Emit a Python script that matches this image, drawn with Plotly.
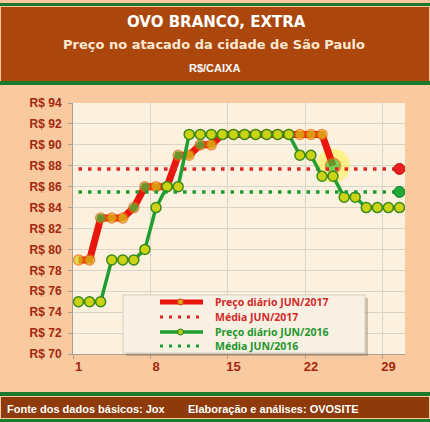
import plotly.graph_objects as go

# dias do mês
dias = list(range(1, 31))
dias_2017 = list(range(1, 25))

# preço diário (R$/caixa)
preco_2017 = [79, 79, 83, 83, 83, 84, 86, 86, 86, 89, 89, 90, 90,
              91, 91, 91, 91, 91, 91, 91, 91, 91, 91, 88]
preco_2016 = [75, 75, 75, 79, 79, 79, 80, 84, 86, 86, 91, 91, 91, 91, 91,
              91, 91, 91, 91, 91, 89, 89, 87, 87, 85, 85, 84, 84, 84, 84]

# médias do mês
media_2017 = 87.7
media_2016 = 85.5

x_ticks = [1, 8, 15, 22, 29]
y_ticks = list(range(70, 95, 2))
y_labels = ["R$ %d" % v for v in y_ticks]

nomes = ["Preço diário JUN/2017", "Média JUN/2017",
         "Preço diário JUN/2016", "Média JUN/2016"]

RED = "#e8160c"
GREEN = "#1f9e32"
TICK_COLOR = "#a2280e"

# marker fills of the 2017 series (some balls are green in the original)
fill_2017 = ["#d8cf12"] * len(preco_2017)
for i in (2, 5, 6, 9, 11, 23):
    fill_2017[i] = "#3cc83a"
size_2017 = [10] * len(preco_2017)
size_2017[-1] = 15


def px(x):
    return (x - 73) / 332.0


def py(y):
    return (354 - y) / 251.0


def label(text, x, y, size, color, family="Liberation Sans", xanchor="center"):
    return dict(text=text, x=px(x), y=py(y), xref="paper", yref="paper",
                xanchor=xanchor, yanchor="middle", showarrow=False,
                font=dict(family=family, size=size, color=color,
                          weight="bold"))


fig = go.Figure()

# glow behind the last 2017 point
fig.add_trace(go.Scatter(
    x=dias_2017[-1:], y=preco_2017[-1:], mode="markers",
    marker=dict(size=34, color="rgba(255,240,70,0.55)", line=dict(width=0)),
    hoverinfo="skip", showlegend=False))

fig.add_trace(go.Scatter(
    x=dias_2017, y=preco_2017, mode="lines+markers", name=nomes[0],
    line=dict(color=RED, width=7),
    marker=dict(size=size_2017, color=fill_2017,
                line=dict(color="#e86a10", width=1.5))))

fig.add_trace(go.Scatter(
    x=dias, y=[media_2017] * len(dias), mode="lines", name=nomes[1],
    line=dict(color="#e02424", width=3.5, dash="3.5px,6px")))
fig.add_trace(go.Scatter(
    x=dias[-1:], y=[media_2017], mode="markers", showlegend=False,
    marker=dict(size=11, color="#e82020", line=dict(color="#c01010", width=1))))

fig.add_trace(go.Scatter(
    x=dias, y=preco_2016, mode="lines+markers", name=nomes[2],
    line=dict(color=GREEN, width=3.5),
    marker=dict(size=10, color="#cbd314", line=dict(color="#3b8a1c", width=1.5))))

fig.add_trace(go.Scatter(
    x=dias, y=[media_2016] * len(dias), mode="lines", name=nomes[3],
    line=dict(color="#1e9a30", width=3.5, dash="3.5px,6px")))
fig.add_trace(go.Scatter(
    x=dias[-1:], y=[media_2016], mode="markers", showlegend=False,
    marker=dict(size=11, color="#22a838", line=dict(color="#157a22", width=1))))

shapes = [
    # header
    dict(type="rect", xref="paper", yref="paper", x0=px(0), x1=px(430),
         y0=py(3), y1=py(6), fillcolor="#1b7a2b", line_width=0),
    dict(type="rect", xref="paper", yref="paper", x0=px(1), x1=px(429),
         y0=py(7), y1=py(81), fillcolor="#ab470c", line_width=0),
    dict(type="rect", xref="paper", yref="paper", x0=px(0), x1=px(430),
         y0=py(81), y1=py(85), fillcolor="#1b7a2b", line_width=0),
    # footer
    dict(type="rect", xref="paper", yref="paper", x0=px(0), x1=px(430),
         y0=py(392), y1=py(396), fillcolor="#1b7a2b", line_width=0),
    dict(type="rect", xref="paper", yref="paper", x0=px(1), x1=px(429),
         y0=py(397), y1=py(418), fillcolor="#8f3a0a", line_width=0),
    dict(type="rect", xref="paper", yref="paper", x0=px(0), x1=px(430),
         y0=py(419), y1=py(422), fillcolor="#1b7a2b", line_width=0),
    # legend box with shadow
    dict(type="rect", xref="paper", yref="paper", x0=px(126), x1=px(368),
         y0=py(356), y1=py(298), fillcolor="rgba(120,100,80,0.35)",
         line_width=0, layer="above"),
    dict(type="rect", xref="paper", yref="paper", x0=px(123), x1=px(365),
         y0=py(353), y1=py(295), fillcolor="#f8f1e3",
         line=dict(color="#d8cfc0", width=1), layer="above"),
]

annotations = [
    label("OVO BRANCO, EXTRA", 216, 21.5, 15, "white", "DejaVu Sans"),
    label("Preço no atacado da cidade de São Paulo", 214, 44, 13, "#fde8d2",
          "DejaVu Sans"),
    label("R$/CAIXA", 214, 68, 11, "white"),
    label("Fonte dos dados básicos: Jox", 5, 409, 11, "white", xanchor="left"),
    label("Elaboração e análises: OVOSITE", 186, 409, 11, "white",
          xanchor="left"),
]

# hand-made legend (plotly's own legend rows are too tall for the box)
leg_rows = [302, 317, 332, 346]
leg_colors = [RED, "#e02424", GREEN, "#1e9a30"]
leg_text = ["#d22a2a", "#d22a2a", "#1f962e", "#1f962e"]
for k, (row, col) in enumerate(zip(leg_rows, leg_colors)):
    dotted = k % 2 == 1
    shapes.append(dict(
        type="line", xref="paper", yref="paper", x0=px(160), x1=px(203),
        y0=py(row), y1=py(row), layer="above",
        line=dict(color=col, width=(3 if dotted else (5 if k == 0 else 3.5)),
                  dash=("3px,6px" if dotted else "solid"))))
    if not dotted:
        shapes.append(dict(
            type="circle", xref="paper", yref="paper", layer="above",
            x0=px(177.5), x1=px(183.5), y0=py(row - 3), y1=py(row + 3),
            fillcolor=("#e8a020" if k == 0 else "#b8c818"),
            line=dict(color=("#c04010" if k == 0 else "#2a7a1a"), width=1)))
    annotations.append(label(nomes[k], 213, row, 10.5, leg_text[k],
                             "Noto Sans", xanchor="left"))

fig.update_layout(
    width=430, height=422, autosize=False,
    margin=dict(l=73, r=25, t=103, b=68),
    paper_bgcolor="#f9c9a0",
    plot_bgcolor="#fcf0de",
    showlegend=False,
    shapes=shapes,
    annotations=annotations,
    xaxis=dict(
        range=[0.5, 30.5], tickvals=x_ticks, ticks="", showgrid=False,
        zeroline=False, showline=True, linecolor="#a8a098", linewidth=1,
        tickfont=dict(family="Liberation Sans", size=13, color=TICK_COLOR,
                      weight="bold"),
        minor=dict(tick0=0.5, dtick=7, ticks="outside", ticklen=4,
                   tickcolor="#a8a098", showgrid=True, gridcolor="#dcd4c8",
                   gridwidth=1),
    ),
    yaxis=dict(
        range=[70, 94], tickvals=y_ticks, ticktext=y_labels, ticks="outside",
        ticklen=4, tickcolor="#a8a098", showgrid=True, gridcolor="#dcd4c8",
        gridwidth=1, zeroline=False, showline=True, linecolor="#a8a098",
        linewidth=1, ticklabelstandoff=4,
        tickfont=dict(family="Liberation Sans", size=12, color=TICK_COLOR,
                      weight="bold"),
    ),
)

# no page margin around the figure, no mode bar
fig.write_html("out.html", config={"displayModeBar": False},
               post_script="document.body.style.margin='0';")
